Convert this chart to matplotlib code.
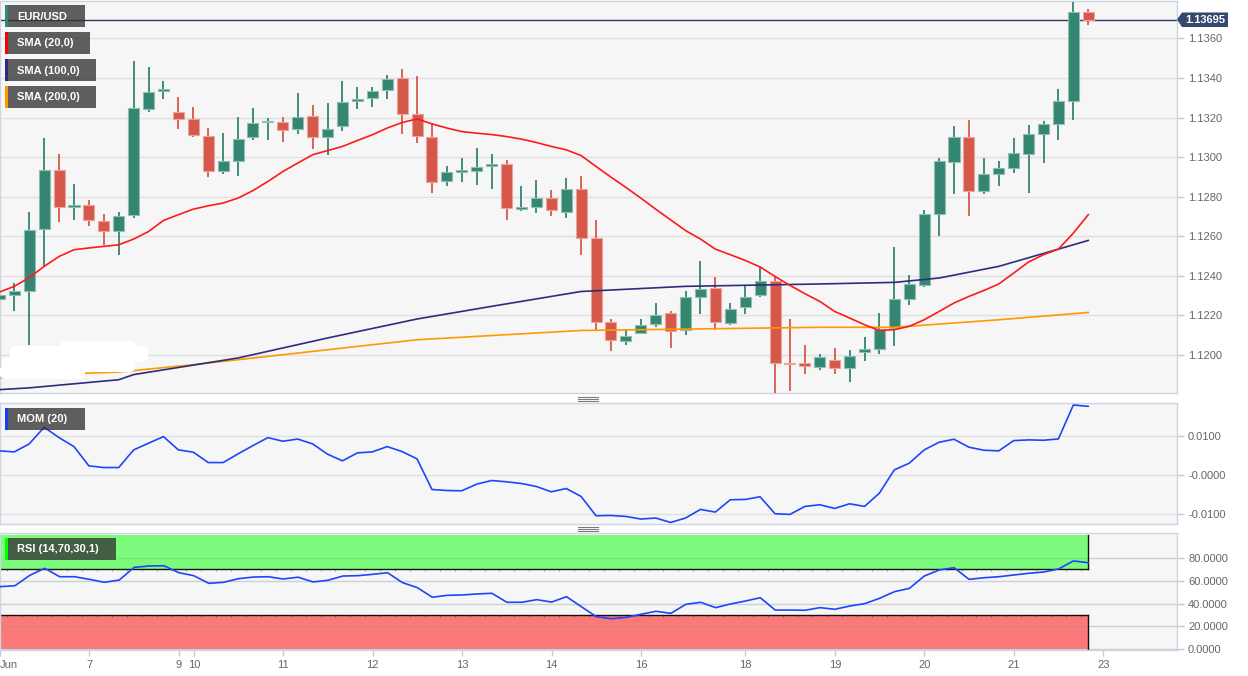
import matplotlib
matplotlib.use('Agg')
import matplotlib.pyplot as plt
from matplotlib.patches import Rectangle, Polygon, FancyBboxPatch
from matplotlib.lines import Line2D
import numpy as np

plt.rcParams['font.family'] = ['Liberation Sans', 'DejaVu Sans']

# ---------------- data (4h candles, EUR/USD) ----------------
opens = [1.12284, 1.12301, 1.12321, 1.12639, 1.12936, 1.12748, 1.12756, 1.12675, 1.12628, 1.12709,
         1.13242, 1.13333, 1.13227, 1.13193, 1.13108, 1.12932, 1.12978, 1.13101, 1.13178, 1.13180,
         1.13143, 1.13210, 1.13101, 1.13155, 1.13285, 1.13298, 1.13340, 1.13399, 1.13219, 1.13104,
         1.12877, 1.12924, 1.12932, 1.12953, 1.12965, 1.12740, 1.12748, 1.12793, 1.12725, 1.12840,
         1.12591, 1.12165, 1.12069, 1.12111, 1.12157, 1.12212, 1.12128, 1.12293, 1.12338, 1.12162,
         1.12243, 1.12301, 1.12375, 1.11960, 1.11960, 1.11940, 1.11976, 1.11934, 1.12013, 1.12030,
         1.12136, 1.12284, 1.12355, 1.12712, 1.12973, 1.13104, 1.12831, 1.12916, 1.12945, 1.13015,
         1.13116, 1.13168, 1.13286, 1.13732]
highs = [1.12330, 1.12364, 1.12724, 1.13099, 1.13017, 1.12865, 1.12784, 1.12714, 1.12725, 1.13486,
         1.13453, 1.13385, 1.13306, 1.13253, 1.13147, 1.13124, 1.13202, 1.13248, 1.13200, 1.13202,
         1.13323, 1.13261, 1.13273, 1.13385, 1.13354, 1.13354, 1.13416, 1.13444, 1.13409, 1.13172,
         1.12956, 1.12995, 1.13046, 1.13015, 1.12986, 1.12855, 1.12885, 1.12835, 1.12894, 1.12906,
         1.12683, 1.12183, 1.12131, 1.12182, 1.12263, 1.12220, 1.12325, 1.12476, 1.12394, 1.12263,
         1.12350, 1.12443, 1.12394, 1.12182, 1.12049, 1.12007, 1.12036, 1.12027, 1.12091, 1.12212,
         1.12546, 1.12406, 1.12734, 1.12995, 1.13155, 1.13188, 1.12995, 1.12978, 1.13096, 1.13160,
         1.13185, 1.13343, 1.13783, 1.13747]
lows = [1.12239, 1.12220, 1.12052, 1.12448, 1.12672, 1.12683, 1.12650, 1.12557, 1.12507, 1.12692,
        1.13230, 1.13293, 1.13141, 1.13104, 1.12899, 1.12916, 1.12907, 1.13087, 1.13087, 1.13076,
        1.13118, 1.13042, 1.13012, 1.13134, 1.13242, 1.13253, 1.13293, 1.13116, 1.13071, 1.12821,
        1.12852, 1.12872, 1.12859, 1.12838, 1.12680, 1.12730, 1.12720, 1.12700, 1.12692, 1.12507,
        1.12128, 1.12018, 1.12052, 1.12108, 1.12142, 1.12036, 1.12103, 1.12209, 1.12128, 1.12153,
        1.12209, 1.12291, 1.11808, 1.11816, 1.11906, 1.11922, 1.11906, 1.11862, 1.11968, 1.12007,
        1.12044, 1.12251, 1.12344, 1.12599, 1.12815, 1.12700, 1.12813, 1.12852, 1.12922, 1.12821,
        1.12970, 1.13087, 1.13188, 1.13668]
closes = [1.12301, 1.12325, 1.12633, 1.12936, 1.12748, 1.12756, 1.12683, 1.12629, 1.12705, 1.13248,
          1.13331, 1.13343, 1.13195, 1.13113, 1.12932, 1.12978, 1.13092, 1.13172, 1.13183, 1.13138,
          1.13205, 1.13101, 1.13143, 1.13281, 1.13295, 1.13335, 1.13394, 1.13219, 1.13109, 1.12874,
          1.12924, 1.12934, 1.12950, 1.12965, 1.12743, 1.12748, 1.12793, 1.12734, 1.12838, 1.12591,
          1.12165, 1.12074, 1.12094, 1.12153, 1.12200, 1.12123, 1.12293, 1.12335, 1.12165, 1.12232,
          1.12293, 1.12372, 1.11960, 1.11953, 1.11943, 1.11990, 1.11934, 1.11997, 1.12030, 1.12131,
          1.12284, 1.12359, 1.12712, 1.12978, 1.13104, 1.12830, 1.12916, 1.12945, 1.13023, 1.13116,
          1.13167, 1.13286, 1.13732, 1.13695]

sma20 = [1.12318, 1.12347, 1.12391, 1.12448, 1.12498, 1.12532, 1.12541, 1.12549, 1.12557, 1.12586,
         1.12624, 1.12680, 1.12709, 1.12737, 1.12754, 1.12768, 1.12793, 1.12831, 1.12877, 1.12927,
         1.12970, 1.13012, 1.13033, 1.13054, 1.13084, 1.13113, 1.13147, 1.13175, 1.13193, 1.13168,
         1.13147, 1.13129, 1.13121, 1.13114, 1.13104, 1.13091, 1.13074, 1.13054, 1.13037, 1.13008,
         1.12953, 1.12899, 1.12847, 1.12793, 1.12737, 1.12683, 1.12629, 1.12586, 1.12535, 1.12507,
         1.12478, 1.12445, 1.12397, 1.12352, 1.12310, 1.12271, 1.12220, 1.12187, 1.12153, 1.12124,
         1.12128, 1.12145, 1.12178, 1.12220, 1.12263, 1.12296, 1.12326, 1.12359, 1.12414, 1.12470,
         1.12507, 1.12535, 1.12616, 1.12709]

sma100_idx = [0, 2, 8, 9, 16, 22, 28, 33, 39, 46, 55, 60, 63, 67, 71, 73]
sma100 = [1.11825, 1.11834, 1.11875, 1.11901, 1.11985, 1.12086, 1.12182, 1.12246, 1.12321, 1.12347,
          1.12359, 1.12367, 1.12389, 1.12448, 1.12535, 1.12579]

sma200_idx = [0, 5, 8, 13, 28, 39, 55, 60, 67, 73]
sma200 = [1.11885, 1.11906, 1.11914, 1.11951, 1.12077, 1.12124, 1.12140, 1.12140, 1.12178, 1.12215]

mom = [0.00611, 0.00585, 0.00789, 0.01214, 0.00949, 0.00720, 0.00229, 0.00186, 0.00186, 0.00636,
       0.00807, 0.00975, 0.00636, 0.00578, 0.00313, 0.00313, 0.00534, 0.00746, 0.00949, 0.00857,
       0.00912, 0.00789, 0.00527, 0.00356, 0.00560, 0.00585, 0.00720, 0.00593, 0.00407, -0.00374,
       -0.00399, -0.00407, -0.00237, -0.00145, -0.00178, -0.00221, -0.00298, -0.00433, -0.00349, -0.00552,
       -0.01043, -0.01036, -0.01061, -0.01127, -0.01102, -0.01214, -0.01102, -0.00882, -0.00950, -0.00636,
       -0.00628, -0.00560, -0.00992, -0.01009, -0.00806, -0.00763, -0.00857, -0.00738, -0.00806, -0.00466,
       0.00127, 0.00297, 0.00636, 0.00831, 0.00908, 0.00704, 0.00628, 0.00611, 0.00873, 0.00891,
       0.00882, 0.00916, 0.01781, 0.01747]

rsi = [54.8, 55.6, 64.7, 70.9, 63.5, 63.5, 61.2, 58.6, 60.6, 71.7,
       72.9, 73.1, 67.0, 64.4, 57.7, 58.6, 61.8, 63.2, 63.5, 61.5,
       63.1, 58.9, 60.4, 64.1, 64.4, 65.6, 67.0, 58.3, 53.9, 45.5,
       47.2, 47.5, 48.4, 49.0, 41.1, 41.1, 43.4, 41.3, 46.0, 37.2,
       28.5, 26.7, 27.9, 30.6, 33.2, 31.4, 39.3, 41.1, 36.4, 39.6,
       42.2, 45.1, 34.3, 34.3, 34.1, 36.4, 35.0, 37.8, 39.9, 44.6,
       50.4, 53.3, 64.1, 69.4, 71.4, 61.2, 62.6, 63.5, 65.0, 66.5,
       67.6, 70.3, 77.3, 75.8]

last_price = 1.13695
tick_pos = [0, 6, 12, 13, 19, 25, 31, 37, 43, 50, 56, 62, 68, 74]
tick_labels = ['Jun', '7', '9', '10', '11', '12', '13', '14', '16', '18', '19', '20', '21', '23']
price_ticks = [1.1200, 1.1220, 1.1240, 1.1260, 1.1280, 1.1300, 1.1320, 1.1340, 1.1360]
mom_ticks = [-0.01, 0.0, 0.01]
mom_labels = ['-0.0100', '-0.0000', '0.0100']
rsi_ticks = [0, 20, 40, 60, 80]
rsi_upper, rsi_lower = 70, 30
legend_names = ['EUR/USD', 'SMA (20,0)', 'SMA (100,0)', 'SMA (200,0)']

# ---------------- styling ----------------
W, H = 1248, 676
GREEN = '#348571'
RED = '#d6584a'
GREEN_EDGE = '#8fbfb2'
RED_EDGE = '#eaa49b'
BG = '#f6f6f6'
SPINE = '#cdd5e5'
GRID = '#e0e0e0'
LABEL = '#666666'

fig = plt.figure(figsize=(W / 100, H / 100), dpi=100)
fig.patch.set_facecolor('white')


def fx(x):
    return x / W


def fy(y):
    return 1 - y / H


def make_axes(top, bottom, left=0, right=1177):
    return fig.add_axes([fx(left), fy(bottom), (right - left) / W, (bottom - top) / H])


ax = make_axes(1, 393)
axm = make_axes(403, 524)
axr = make_axes(533, 650)

XL, XR = 0.04, 78.95
for a in (ax, axm, axr):
    a.set_facecolor(BG)
    for s in a.spines.values():
        s.set_color(SPINE)
        s.set_linewidth(1)
    a.yaxis.tick_right()
    a.tick_params(axis='y', direction='out', length=5, width=1, color='#c3cad8',
                  labelsize=8, labelcolor=LABEL, pad=3)
    a.set_xlim(XL, XR)
    a.set_axisbelow(True)
    a.grid(axis='y', color=GRID, linewidth=1)
    a.grid(axis='x', visible=False)
for a in (ax, axm):
    a.tick_params(axis='x', length=0, labelbottom=False)

# ---------- main price panel ----------
idx = np.arange(len(opens))
o = np.array(opens); h = np.array(highs); l = np.array(lows); c = np.array(closes)
up = c >= o
cols = np.where(up, GREEN, RED)
ecols = np.where(up, GREEN_EDGE, RED_EDGE)
ax.vlines(idx, l, h, colors=cols, linewidth=1.3, zorder=3)
body = np.abs(c - o)
mid = (o + c) / 2
bh = np.maximum(body, 0.00008)
ax.bar(idx, bh, bottom=mid - bh / 2, width=0.74, color=cols, edgecolor=ecols,
       linewidth=0.8, zorder=4)

ax.plot(sma200_idx, sma200, color='#ff9900', linewidth=1.2, zorder=5)
ax.plot(sma100_idx, sma100, color='#2d2d7d', linewidth=1.2, zorder=5)
ax.plot(idx, sma20, color='#ff1a1a', linewidth=1.2, zorder=6)
ax.axhline(last_price, color='#2b3a58', linewidth=1, zorder=2)

ax.set_ylim(1.11808, 1.13789)
ax.set_yticks(price_ticks)
ax.set_yticklabels(['%.4f' % v for v in price_ticks])

# ---------- momentum ----------
axm.plot(idx, mom, color='#1f45fc', linewidth=1.2, zorder=3)
axm.set_ylim(-0.01254, 0.01832)
axm.set_yticks(mom_ticks)
axm.set_yticklabels(mom_labels)

# ---------- RSI ----------
last = len(rsi) - 1
axr.set_ylim(-0.7, 101.8)
axr.add_patch(Rectangle((-1, rsi_upper), last + 1, 100 - rsi_upper, facecolor='#7cfb7c',
                        edgecolor='none', zorder=1))
axr.add_patch(Rectangle((-1, 0), last + 1, rsi_lower, facecolor='#fa7a7a',
                        edgecolor='none', zorder=1))
for yv in (rsi_upper, rsi_lower):
    axr.plot([XL, last], [yv, yv], color='#111111', linewidth=1, zorder=2)
    # small tick marks hanging below the band borders
    axr.vlines(idx[:-1] + 0.5, yv - 1.6, yv, colors='#333333', linewidth=0.7,
               alpha=0.45, zorder=2)
axr.plot([last, last], [rsi_upper, 100], color='#111111', linewidth=1, zorder=2)
axr.plot([last, last], [0, rsi_lower], color='#111111', linewidth=1, zorder=2)
for yv in rsi_ticks:
    axr.axhline(yv, color='#888888', alpha=0.18, linewidth=1, zorder=1.5)
axr.plot(idx, rsi, color='#1f45fc', linewidth=1.2, zorder=3)
axr.set_yticks(rsi_ticks)
axr.set_yticklabels(['%.4f' % v for v in rsi_ticks])
axr.set_xticks(tick_pos)
axr.set_xticklabels(tick_labels)
axr.tick_params(axis='x', direction='out', length=4, width=1, color='#c3cad8',
                labelsize=8, labelcolor=LABEL, pad=3)
axr.get_xticklabels()[0].set_horizontalalignment('left')

# ---------- watermark blanking (white blob on the left) ----------
for (x0, y0, x1, y1) in [(10, 346, 148, 362), (60, 341, 135, 350), (2, 357, 135, 372), (0, 366, 85, 379)]:
    fig.add_artist(FancyBboxPatch((fx(x0), fy(y1)), (x1 - x0) / W, (y1 - y0) / H,
                                  boxstyle='round,pad=0,rounding_size=0.006',
                                  transform=fig.transFigure, facecolor='white',
                                  edgecolor='none', zorder=8))

# ---------- legend boxes ----------
def label_box(x0, y0, x1, y1, text, stripe, face='#333333', alpha=0.78):
    fig.add_artist(Rectangle((fx(x0), fy(y1)), (x1 - x0) / W, (y1 - y0) / H,
                             transform=fig.transFigure, facecolor=face, alpha=alpha,
                             edgecolor='none', zorder=10))
    fig.add_artist(Rectangle((fx(x0), fy(y1)), 3 / W, (y1 - y0) / H,
                             transform=fig.transFigure, facecolor=stripe,
                             edgecolor='none', zorder=11))
    fig.text(fx(x0 + 12), fy((y0 + y1) / 2 + 0.5), text, color='white', fontsize=8,
             fontweight='bold', ha='left', va='center', zorder=12)


label_box(5, 5, 85, 27, legend_names[0], '#2e8b73')
label_box(5, 32, 90, 54, legend_names[1], '#ff0000')
label_box(5, 59, 96, 81, legend_names[2], '#2a2a80')
label_box(5, 86, 96, 108, legend_names[3], '#ff9900')
label_box(5, 408, 85, 430, 'MOM (20)', '#1a3cff')
label_box(5, 538, 116, 560, 'RSI (14,70,30,1)', '#00ff00')

# ---------- last price tag ----------
tag = [(1177, 19.5), (1182, 12.5), (1228, 12.5), (1228, 27), (1182, 27)]
fig.add_artist(Polygon([(fx(x), fy(y)) for x, y in tag], closed=True,
                       transform=fig.transFigure, facecolor='#34496e',
                       edgecolor='none', zorder=10))
fig.text(fx(1205), fy(20), '%.5f' % last_price, color='white', fontsize=8,
         fontweight='bold', ha='center', va='center', zorder=12)

# ---------- panel grips ----------
for base in (397.3, 527.3):
    for k in range(3):
        yy = fy(base + 2 * k)
        fig.add_artist(Line2D([fx(578), fx(598)], [yy, yy], transform=fig.transFigure,
                              color='#7a7a7a', linewidth=0.8, zorder=10))

fig.savefig('out.png', dpi=100, facecolor='white')
